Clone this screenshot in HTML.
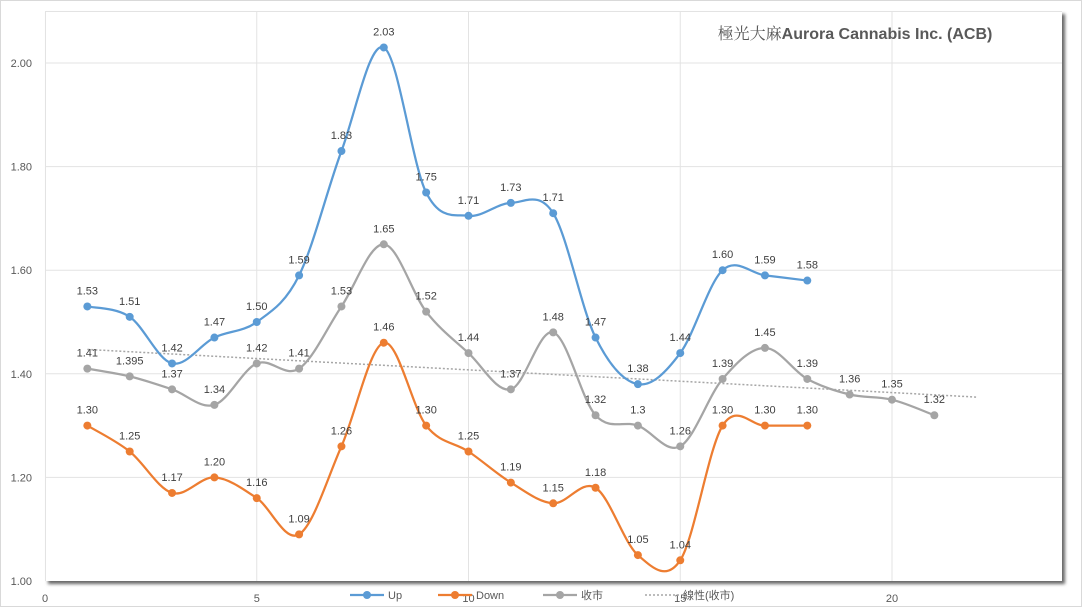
<!DOCTYPE html>
<html><head><meta charset="utf-8"><style>
html,body{margin:0;padding:0;background:#fff}
svg{display:block}
text{font-family:"Liberation Sans","Noto Sans CJK TC",sans-serif}
</style></head><body>
<svg id="s" width="1082" height="607" xmlns="http://www.w3.org/2000/svg">
<rect x="0.5" y="0.5" width="1081" height="606" fill="#fff" stroke="#d9d9d9"/>
<defs><filter id="sh" x="-5%" y="-5%" width="110%" height="110%"><feDropShadow dx="3" dy="3" stdDeviation="1.5" flood-color="#000" flood-opacity="0.6"/></filter></defs>
<rect x="45" y="11" width="1017" height="570" fill="#fff" filter="url(#sh)"/>
<g id="g"></g>
<text x="855" y="39" font-size="16" fill="#595959" text-anchor="middle"><tspan font-family="Noto Serif CJK SC,serif">極光大麻</tspan><tspan font-weight="bold">Aurora Cannabis Inc. (ACB)</tspan></text>
</svg>
<script>
var g=document.getElementById('g'),h='';
function X(x){return 45+x*42.35}function Y(v){return 581-(v-1)*518}
for(var v=1.2;v<2.05;v+=0.2)h+='<line x1="45" x2="1062" y1="'+Y(v)+'" y2="'+Y(v)+'" stroke="#e3e3e3"/>';
h+='<line x1="45" x2="1062" y1="11.5" y2="11.5" stroke="#e3e3e3"/>';
for(var i=5;i<=20;i+=5)h+='<line y1="11" y2="581" x1="'+X(i)+'" x2="'+X(i)+'" stroke="#e3e3e3"/>';
h+='<line y1="11" y2="581" x1="45.5" x2="45.5" stroke="#e3e3e3"/>';
for(var v=1;v<2.05;v+=0.2)h+='<text x="32" y="'+(Y(v)+4)+'" font-size="11" fill="#595959" text-anchor="end">'+v.toFixed(2)+'</text>';
for(var i=0;i<=20;i+=5)h+='<text x="'+X(i)+'" y="602" font-size="11" fill="#595959" text-anchor="middle">'+i+'</text>';
function path(p){var d='M'+p[0][0]+','+p[0][1];for(var i=0;i<p.length-1;i++){var p0=p[i-1]||p[i],p1=p[i],p2=p[i+1],p3=p[i+2]||p2;d+=' C'+(p1[0]+(p2[0]-p0[0])/6)+','+(p1[1]+(p2[1]-p0[1])/6)+' '+(p2[0]-(p3[0]-p1[0])/6)+','+(p2[1]-(p3[1]-p1[1])/6)+' '+p2[0]+','+p2[1];}return d}
function series(vals,labs,col){var p=vals.map(function(v,i){return[X(i+1),Y(v)]});
h+='<path d="'+path(p)+'" fill="none" stroke="'+col+'" stroke-width="2.25"/>';
p.forEach(function(q,i){h+='<circle cx="'+q[0]+'" cy="'+q[1]+'" r="4" fill="'+col+'"/><text x="'+q[0]+'" y="'+(q[1]-12)+'" font-size="11" fill="#404040" text-anchor="middle">'+labs[i]+'</text>'})}
var C=[1.41,1.395,1.37,1.34,1.42,1.41,1.53,1.65,1.52,1.44,1.37,1.48,1.32,1.30,1.26,1.39,1.45,1.39,1.36,1.35,1.32];
h+='<line x1="'+X(1)+'" y1="'+Y(1.447)+'" x2="'+X(22)+'" y2="'+Y(1.355)+'" stroke="#a6a6a6" stroke-width="1.5" stroke-dasharray="2,2"/>';
series(C,['1.41','1.395','1.37','1.34','1.42','1.41','1.53','1.65','1.52','1.44','1.37','1.48','1.32','1.3','1.26','1.39','1.45','1.39','1.36','1.35','1.32'],'#a5a5a5');
var U=[1.53,1.51,1.42,1.47,1.50,1.59,1.83,2.03,1.75,1.705,1.73,1.71,1.47,1.38,1.44,1.60,1.59,1.58];
series(U,['1.53','1.51','1.42','1.47','1.50','1.59','1.83','2.03','1.75','1.71','1.73','1.71','1.47','1.38','1.44','1.60','1.59','1.58'],'#5b9bd5');
var D=[1.30,1.25,1.17,1.20,1.16,1.09,1.26,1.46,1.30,1.25,1.19,1.15,1.18,1.05,1.04,1.30,1.30,1.30];
series(D,D.map(function(v){return v.toFixed(2)}),'#ed7d31');
function leg(x,col,t,dash){h+='<line x1="'+x+'" x2="'+(x+34)+'" y1="595" y2="595" stroke="'+col+'" stroke-width="'+(dash?1.5:2.25)+'"'+(dash?' stroke-dasharray="2,2"':'')+'/>';if(!dash)h+='<circle cx="'+(x+17)+'" cy="595" r="4" fill="'+col+'"/>';h+='<text x="'+(x+38)+'" y="599" font-size="11" fill="#595959">'+t+'</text>'}
leg(350,'#5b9bd5','Up');leg(438,'#ed7d31','Down');leg(543,'#a5a5a5','收市');leg(645,'#a6a6a6','線性(收市)',1);
g.innerHTML=h;
</script>
</body></html>
